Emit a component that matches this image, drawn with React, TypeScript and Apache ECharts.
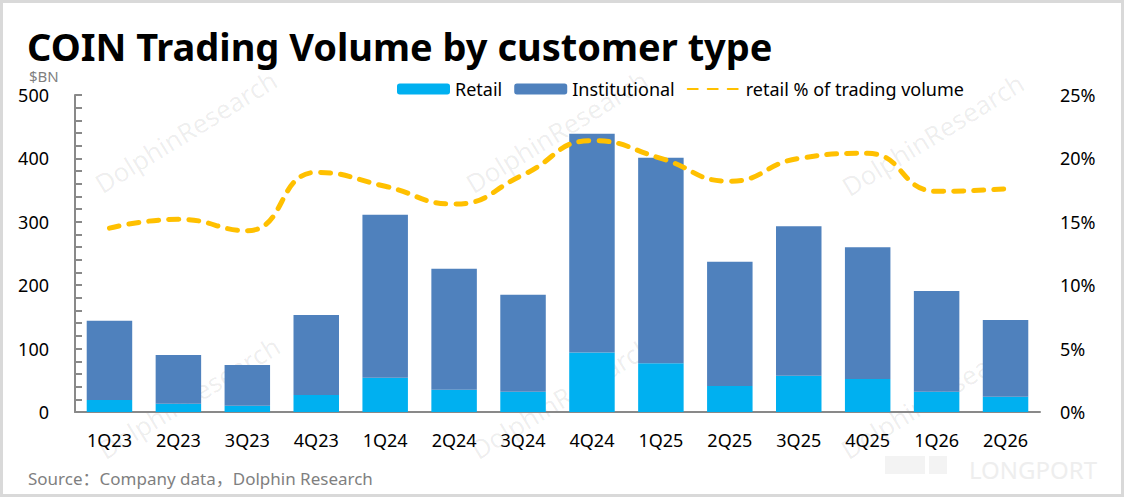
import React, { useEffect, useRef } from "react";
import * as echarts from "echarts";

const categories = ["1Q23", "2Q23", "3Q23", "4Q23", "1Q24", "2Q24", "3Q24", "4Q24", "1Q25", "2Q25", "3Q25", "4Q25", "1Q26", "2Q26"];
const retail = [19, 13, 10, 27, 54, 35, 32, 94, 77, 41, 57, 52, 32, 24];
const institutional = [125, 77, 64, 126, 257, 191, 153, 345, 324, 196, 236, 208, 159, 121];
const retailPct = [14.5, 15.2, 14.3, 18.9, 17.8, 16.4, 18.7, 21.4, 20.0, 18.2, 20.0, 20.4, 17.4, 17.6];

const FONT = "'Noto Sans', 'Noto Sans CJK SC', sans-serif";
const GRAY = "#7f7f7f";

export default function App() {
  const ref = useRef<HTMLDivElement>(null);
  useEffect(() => {
    document.body.style.margin = "0";
    const chart = echarts.init(ref.current!, null, { renderer: "svg" });
    const wm = (x: number, y: number) => ({
      type: "text",
      x,
      y,
      rotation: 0.55,
      silent: true,
      z: -1,
      style: {
        text: "DolphinResearch",
        fill: "rgba(0,0,0,0.07)",
        font: `26px ${FONT}`,
        textAlign: "left",
        textVerticalAlign: "bottom",
      },
    });
    chart.setOption({
      animation: false,
      backgroundColor: "#ffffff",
      textStyle: { fontFamily: FONT },
      graphic: [
        {
          type: "rect",
          shape: { x: 1.5, y: 1.5, width: 1121, height: 494 },
          style: { fill: "none", stroke: "#d9d9d9", lineWidth: 3 },
          silent: true,
        },
        wm(104, 197),
        wm(475, 197),
        wm(851, 200),
        wm(107, 463),
        wm(480, 463),
        wm(850, 463),
        { type: "rect", shape: { x: 885, y: 456, width: 40, height: 18 }, style: { fill: "#f3f3f3" }, silent: true, z: -1 },
        { type: "rect", shape: { x: 929, y: 456, width: 18, height: 18 }, style: { fill: "#f3f3f3" }, silent: true, z: -1 },
        {
          type: "text",
          x: 969,
          y: 469,
          silent: true,
          z: -1,
          style: { text: "LONGPORT", fill: "#eeeeee", font: `24px ${FONT}`, textVerticalAlign: "middle" },
        },
        {
          type: "text",
          x: 27,
          y: 46,
          style: { text: "COIN Trading Volume by customer type", fill: "#000", font: `bold 38px ${FONT}`, textVerticalAlign: "middle" },
        },
        {
          type: "text",
          x: 29,
          y: 76,
          style: { text: "$BN", fill: GRAY, font: `15px ${FONT}`, textVerticalAlign: "middle" },
        },
        {
          type: "text",
          x: 28,
          y: 478,
          style: { text: "Source：Company data，Dolphin Research", fill: GRAY, font: `17px ${FONT}`, textVerticalAlign: "middle" },
        },
      ],
      legend: {
        left: 392,
        top: 75,
        itemWidth: 53,
        itemHeight: 11,
        itemGap: 12,
        textStyle: { fontSize: 18, color: "#000", fontFamily: FONT },
        data: [
          "Retail",
          "Institutional",
          { name: "retail % of trading volume", itemStyle: { opacity: 0 } },
        ],
      },
      grid: { left: 75, right: 84, top: 95, bottom: 85 },
      xAxis: {
        type: "category",
        data: categories,
        axisLine: { lineStyle: { color: "#898989", width: 2 } },
        axisTick: { show: false },
        axisLabel: { fontSize: 18, color: "#000", margin: 19, interval: 0 },
      },
      yAxis: [
        {
          type: "value",
          min: 0,
          max: 500,
          interval: 100,
          axisLine: { show: true, lineStyle: { color: "#898989", width: 2 } },
          axisTick: { show: true, inside: true, length: 7, lineStyle: { color: "#898989", width: 2 } },
          minorTick: { show: true, splitNumber: 5, length: 7, lineStyle: { color: "#898989", width: 2 } },
          splitLine: { show: false },
          axisLabel: { fontSize: 18, color: "#000", margin: 26 },
        },
        {
          type: "value",
          min: 0,
          max: 25,
          interval: 5,
          position: "right",
          axisLine: { show: false },
          axisTick: { show: false },
          splitLine: { show: false },
          axisLabel: { fontSize: 18, color: "#000", margin: 20, formatter: "{value}%" },
        },
      ],
      series: [
        {
          name: "Retail",
          type: "bar",
          stack: "vol",
          barWidth: "66%",
          itemStyle: { color: "#00B0F0" },
          data: retail,
        },
        {
          name: "Institutional",
          type: "bar",
          stack: "vol",
          barWidth: "66%",
          itemStyle: { color: "#4F81BD" },
          data: institutional,
        },
        {
          name: "retail % of trading volume",
          type: "line",
          yAxisIndex: 1,
          smooth: 0.5,
          symbol: "none",
          lineStyle: { color: "#FFC000", width: 5, type: [10, 10], cap: "round" },
          itemStyle: { color: "#FFC000" },
          data: retailPct,
          z: 5,
        },
      ],
    });
    return () => chart.dispose();
  }, []);
  return <div ref={ref} style={{ width: 1124, height: 497 }} />;
}
